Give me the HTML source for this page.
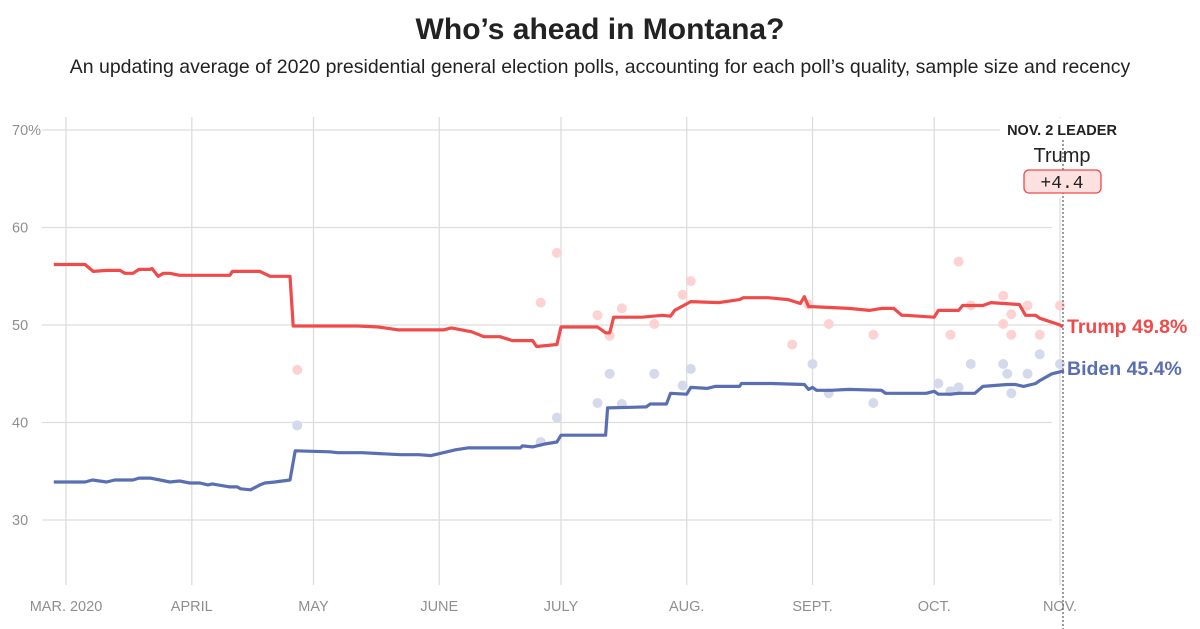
<!DOCTYPE html>
<html><head><meta charset="utf-8">
<style>
body{margin:0;background:#fff;width:1200px;height:629px;overflow:hidden;font-family:"Liberation Sans",sans-serif}
#title{position:absolute;top:13px;left:0;width:1200px;text-align:center;font-size:30px;font-weight:bold;color:#222}
#sub{position:absolute;top:56px;left:0;width:1200px;text-align:center;font-size:19.5px;color:#222}
svg{position:absolute;left:0;top:0}
.tick{font-family:"Liberation Sans Narrow","Liberation Sans",sans-serif;font-size:14.5px;fill:#8f8f8f}
</style></head><body>
<div id="title">Who’s ahead in Montana?</div>
<div id="sub">An updating average of 2020 presidential general election polls, accounting for each poll’s quality, sample size and recency</div>
<svg id="chart" width="1200" height="629"></svg>
<script>
// data: day offset from Mar 1, 2020
const yTicks=[70,60,50,40,30];
const monthDays=[0,31,61,92,122,153,184,214,245];
const monthLabels=["MAR. 2020","APRIL","MAY","JUNE","JULY","AUG.","SEPT.","OCT.","NOV."];
const trumpDays=[-3,4.7,6.7,10,13.3,14.5,16.5,18,20.7,21.2,22.7,24,25.6,28,40.4,41,47.8,50.3,55.2,56,72,77,82,90,93,95,100,103,107,110,115,116,121,122,131,133,134,135,142,147,149,150,154,161,166,167,173,178,181,182,183,193,198,201,204,206,207,214,215,220,221,226,228,235,236.5,239,240,245,245.7];
const trumpVals=[56.2,56.2,55.5,55.6,55.6,55.3,55.3,55.7,55.7,55.8,55.0,55.3,55.3,55.1,55.1,55.5,55.5,55.0,55.0,49.9,49.9,49.8,49.5,49.5,49.5,49.7,49.3,48.8,48.8,48.4,48.4,47.8,48.0,49.8,49.8,49.2,49.2,50.8,50.8,51.0,50.9,51.5,52.4,52.3,52.6,52.8,52.8,52.6,52.2,52.9,51.9,51.7,51.5,51.7,51.7,51.0,51.0,50.8,51.5,51.5,52.0,52.0,52.3,52.1,51.0,51.0,50.7,50.0,49.8];
const bidenDays=[-3,4.7,6.5,10,12,16.5,18,20.7,23.2,25.6,28,30.5,33,35,36,40.4,42.2,43,45.5,47.8,49,51.5,55.2,56.5,65,67,73,82.5,87,90,93,96,99,112,112.5,115,118,121,122,133,133.5,143,144,148,149,153,154,158,160,166,166.5,174,182,183,184,185,188.5,193,201,202,212,214,215,218,220,224,226,232,234,236,239,240,243,246];
const bidenVals=[33.9,33.9,34.1,33.9,34.1,34.1,34.3,34.3,34.1,33.9,34.0,33.8,33.8,33.6,33.7,33.4,33.4,33.2,33.1,33.6,33.8,33.9,34.1,37.1,37.0,36.9,36.9,36.7,36.7,36.6,36.9,37.2,37.4,37.4,37.6,37.5,37.8,38.0,38.7,38.7,41.5,41.6,41.9,41.9,43.0,42.9,43.6,43.5,43.7,43.7,44.0,44.0,43.9,43.4,43.6,43.3,43.3,43.4,43.3,43.0,43.0,43.2,42.9,42.9,43.0,43.0,43.7,43.9,43.9,43.7,44.0,44.3,45.0,45.3];
const trumpPollDays=[57,117,121,131,134,137,145,152,154,179,183,188,199,218,220,223,231,231,233,233,237,240,245];
const trumpPollVals=[45.4,52.3,57.4,51.0,48.9,51.7,50.1,53.1,54.5,48.0,52.1,50.1,49.0,49.0,56.5,52.0,53.0,50.1,51.1,49.0,52.0,49.0,52.0];
const bidenPollDays=[57,117,121,131,134,137,145,152,154,184,188,199,215,218,220,223,231,232,233,237,240,245];
const bidenPollVals=[39.7,38.0,40.5,42.0,45.0,41.9,45.0,43.8,45.5,46.0,43.0,42.0,44.0,43.2,43.6,46.0,46.0,45.0,43.0,45.0,47.0,46.0];

const NS="http://www.w3.org/2000/svg";
const svg=document.getElementById('chart');
const X=d=>66+d*(994/245);
const Y=v=>325-(v-50)*9.75;
function mk(tag,attrs,parent){const e=document.createElementNS(NS,tag);for(const k in attrs)e.setAttribute(k,attrs[k]);(parent||svg).appendChild(e);return e;}

yTicks.forEach((t,i)=>{
  const l=mk('line',{x1:42,x2:1052,y1:Y(t),y2:Y(t),stroke:'#ddd','stroke-width':1.3});
  
  
  const tx=mk('text',{x:12,y:Y(t)+5,class:'tick'});
  tx.textContent=i===0?t+'%':String(t);
  
  
});
monthDays.forEach((d,i)=>{
  const l=mk('line',{x1:X(d),x2:X(d),y1:117,y2:585,stroke:'#ddd','stroke-width':1.3});
  
  
  const tx=mk('text',{x:X(d),y:611,class:'tick','text-anchor':'middle'});
  tx.textContent=monthLabels[i];
  
  
});
const bg=mk('rect',{x:1000,y:118,width:130,height:80,fill:'#fff'});



function dots(days,vals,color,name){
  days.forEach((d,i)=>{
    const c=mk('circle',{cx:X(d),cy:Y(vals[i]),r:5,fill:color});
    
    
  });
}
dots(trumpPollDays,trumpPollVals,'#fcd2d2','trump-poll-dot');
dots(bidenPollDays,bidenPollVals,'#d5d9ec','biden-poll-dot');

function line(days,vals,color,name){
  const p=mk('path',{d:days.map((d,i)=>(i?'L':'M')+X(d).toFixed(1)+','+Y(vals[i]).toFixed(1)).join(''),fill:'none',stroke:color,'stroke-width':3.2,'stroke-linejoin':'round'});
  
  
}
line(trumpDays,trumpVals,'#f04a4a','trump-average-line');
line(bidenDays,bidenVals,'#5a6fb3','biden-average-line');

const dl=mk('line',{x1:1063,x2:1063,y1:140,y2:629,stroke:'#666','stroke-width':1.3,'stroke-dasharray':'2,2'});



const t1=mk('text',{x:1062,y:135,'text-anchor':'middle','font-size':14.5,'font-weight':'bold',fill:'#222'});
t1.textContent='NOV. 2 LEADER';


const t2=mk('text',{x:1062,y:162,'text-anchor':'middle','font-size':20,fill:'#222'});
t2.textContent='Trump';


const box=mk('rect',{x:1024,y:170,width:77,height:23,rx:5,fill:'#fde0e0',stroke:'#f04a4a','stroke-width':1.3});


const t3=mk('text',{x:1062,y:188,'text-anchor':'middle','font-size':18,'font-family':'Liberation Mono, monospace',fill:'#222'});
t3.textContent='+4.4';



const lt=mk('text',{x:1067,y:333,'font-size':19.5,'font-weight':'bold',fill:'#f04a4a'});
lt.textContent='Trump 49.8%';


const lb=mk('text',{x:1067,y:375,'font-size':19.5,'font-weight':'bold',fill:'#5a6fb3'});
lb.textContent='Biden 45.4%';


</script>
</body></html>
